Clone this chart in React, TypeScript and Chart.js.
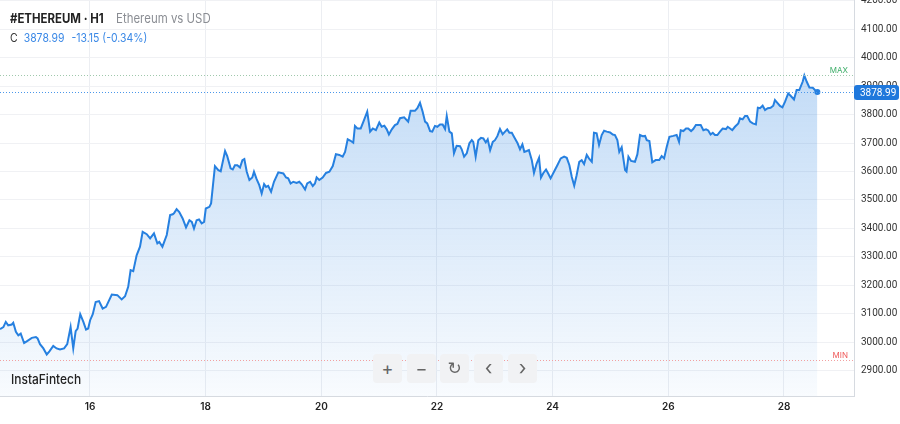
import { useEffect, useRef } from "react";
import { Chart, registerables } from "chart.js";

Chart.register(...registerables);

// ---- data -------------------------------------------------------------
const START_DAY = 14.444; // day-of-month at left edge of the plot
const X_MAX_DAY = 29.211;

const hoursFromStart = [
  0, 1.4, 2.4, 3.4, 4.9, 5.5, 6.6, 7.6, 8.6, 10.0, 11.1, 13.2, 14.9, 15.6, 16.6, 18.0, 19.4, 20.5, 22.1, 23.5,
  24.9, 26.6, 27.9, 29.3, 30.4, 31.4, 32.2, 33.3, 34.6, 35.7, 36.6, 37.4, 38.5, 39.7, 41.1, 42.6, 44.0, 46.4, 48.7, 50.5,
  51.9, 53.2, 54.2, 55.3, 56.7, 58.1, 59.2, 60.9, 62.3, 63.9, 65.3, 66.1, 67.4, 69.2, 70.6, 71.7, 72.2, 73.3, 74.4, 75.8,
  77.2, 78.6, 79.6, 80.5, 81.6, 82.6, 83.7, 84.7, 85.4, 86.9, 87.6, 89.2, 90.6,
  91.6, 93.4, 94.3, 95.7, 96.6, 97.5, 98.5, 99.6, 100.6, 101.4, 102.4, 103.5, 104.7, 105.4, 106.5, 107.6, 108.6, 109.6, 110.4, 111.3,
  112.5, 113.7, 115.5, 117.6, 118.7, 119.6, 120.6, 121.7, 123.1, 124.2, 125.2, 126.6, 127.5, 128.7, 129.8, 130.7, 131.4, 132.5, 133.9, 135.3,
  136.7, 138.1, 139.4, 140.8, 142.2, 143.2, 144.3, 145.5, 146.6, 147.3, 148.3, 149.7, 151.1, 152.4, 153.6, 154.7, 156.0, 157.4, 158.4, 159.5,
  160.5, 161.4, 162.6, 163.9, 164.9, 166.0, 167.7, 169.4, 170.4, 172.2, 173.2, 174.3,
  175.4, 176.4, 177.3, 178.5, 179.4, 180.5, 181.5, 182.6, 183.7, 184.7, 185.4, 186.5, 187.5, 188.4, 189.5, 190.9, 191.6, 192.6, 193.7, 194.8,
  195.8, 196.4, 197.4, 198.5, 199.6, 200.6, 201.6, 202.4, 203.4, 204.5, 205.4, 206.4, 207.5, 208.6, 209.6, 210.5, 211.4, 212.4, 213.7, 214.8,
  215.8, 216.8, 217.6, 218.6, 219.5, 220.7, 221.6, 222.7, 223.7, 224.5, 225.5, 226.6, 227.5, 228.5, 229.9, 231.3, 232.7, 234.1, 235.2, 236.3,
  237.3, 238.3, 239.3, 240.4, 241.4, 242.4, 243.5, 244.4, 245.6, 246.5, 247.6, 248.6, 249.7, 250.7, 251.8, 253.2, 254.3, 255.2, 256.2, 257.0,
  258.0, 259.4, 260.0, 260.8, 261.9, 263.5,
  264.5, 265.6, 266.7, 267.7, 268.4, 269.5, 270.7, 272.1, 273.6, 274.6, 275.6, 276.7, 277.8, 279.4, 280.8, 281.8, 282.5, 283.6, 284.7, 285.6,
  286.8, 287.7, 288.8, 289.8, 290.8, 291.9, 293.0, 293.9, 294.9, 295.8, 296.7, 297.7, 298.8, 299.9, 301.3, 302.0, 303.0, 303.9, 305.0, 306.4,
  307.1, 308.2, 309.2, 310.1, 311.3, 312.4, 313.7, 314.5, 315.4, 316.5, 317.5, 318.6, 319.8, 320.9, 321.6, 322.6, 323.7, 324.7, 325.8, 327.1,
  328.1, 329.5, 330.6, 331.7, 333.1, 333.8, 334.8, 335.9, 337.3, 338.2, 339.2,
];

const closePrices = [
  3047, 3054, 3072, 3060, 3063, 3069, 3037, 3025, 3031, 2998, 3004, 3016, 3019, 3014, 2994, 2979, 2958, 2969, 2988, 2979,
  2975, 2979, 2994, 3054, 2979, 3040, 3049, 3099, 3072, 3045, 3049, 3078, 3099, 3142, 3145, 3119, 3125, 3168, 3166, 3151,
  3162, 3195, 3254, 3250, 3306, 3336, 3388, 3380, 3365, 3383, 3348, 3353, 3336, 3377, 3447, 3450, 3453, 3468, 3458, 3435,
  3404, 3429, 3423, 3400, 3429, 3432, 3418, 3423, 3470, 3476, 3488, 3619, 3605,
  3601, 3672, 3654, 3611, 3607, 3622, 3622, 3614, 3640, 3644, 3599, 3570, 3579, 3599, 3573, 3552, 3523, 3556, 3546, 3550,
  3529, 3564, 3597, 3593, 3579, 3576, 3558, 3564, 3560, 3564, 3555, 3537, 3558, 3564, 3549, 3558, 3579, 3570, 3579, 3595,
  3599, 3619, 3661, 3658, 3652, 3669, 3713, 3708, 3701, 3760, 3751, 3751, 3781, 3810, 3740, 3751, 3745, 3772, 3757, 3761,
  3748, 3730, 3748, 3763, 3767, 3787, 3790, 3775, 3813, 3813, 3822, 3841,
  3810, 3775, 3769, 3742, 3740, 3760, 3757, 3765, 3765, 3749, 3795, 3740, 3734, 3664, 3690, 3689, 3678, 3652, 3664, 3699,
  3710, 3704, 3652, 3710, 3718, 3716, 3702, 3713, 3675, 3704, 3710, 3724, 3749, 3731, 3740, 3748, 3736, 3736, 3716, 3699,
  3678, 3695, 3669, 3672, 3675, 3640, 3595, 3628, 3648, 3579, 3595, 3607, 3593, 3576, 3599, 3622, 3646, 3652, 3648, 3622,
  3581, 3550, 3587, 3634, 3640, 3626, 3658, 3646, 3634, 3736, 3734, 3693, 3728, 3743, 3740, 3737, 3730, 3728, 3710, 3669,
  3685, 3605, 3600, 3652, 3637, 3634,
  3660, 3728, 3724, 3725, 3710, 3707, 3632, 3640, 3640, 3654, 3646, 3687, 3722, 3725, 3728, 3704, 3745, 3742, 3751, 3751,
  3742, 3749, 3763, 3763, 3763, 3745, 3748, 3744, 3730, 3736, 3728, 3728, 3740, 3751, 3749, 3757, 3751, 3745, 3757, 3769,
  3787, 3783, 3795, 3795, 3775, 3769, 3765, 3824, 3822, 3831, 3816, 3822, 3824, 3831, 3851, 3841, 3830, 3825, 3845, 3874,
  3866, 3853, 3886, 3886, 3915, 3937, 3915, 3895, 3894, 3886, 3878.99,
];

const dayTicks = [16, 18, 20, 22, 24, 26, 28];
const priceTicks = [2900, 3000, 3100, 3200, 3300, 3400, 3500, 3600, 3700, 3800, 3900, 4000, 4100, 4200];
const Y_MIN = 2812;
const Y_MAX = 4202;

const LAST_PRICE = 3878.99;
const CHANGE_TEXT = "-13.15 (-0.34%)";
const MAX_LEVEL = 3940;
const MIN_LEVEL = 2940;

const SYMBOL = "#ETHEREUM · H1";
const DESCRIPTION = "Ethereum vs USD";
const BRAND = "InstaFintech";

const BLUE = "#2680e0";
const FONT = "Inter, 'Noto Sans', sans-serif";
const AXIS_FONT = "Roboto, 'Noto Sans', sans-serif";

// ---- plugin for level lines and price badge -----------------------------
const levelsPlugin = {
  id: "levels",
  afterDatasetsDraw(chart: any) {
    const { ctx, chartArea, scales } = chart;
    const y = scales.y;
    const dotted = (v: number, color: string) => {
      const py = Math.round(y.getPixelForValue(v)) + 0.5;
      ctx.save();
      ctx.strokeStyle = color;
      ctx.lineWidth = 1;
      ctx.setLineDash([1, 2]);
      ctx.beginPath();
      ctx.moveTo(chartArea.left, py);
      ctx.lineTo(chartArea.right, py);
      ctx.stroke();
      ctx.restore();
      return py;
    };
    const pMax = dotted(MAX_LEVEL, "#9fc8ac");
    const pMin = dotted(MIN_LEVEL, "#f2a0a0");
    const pLast = dotted(LAST_PRICE, "#4a97ea");

    ctx.save();
    ctx.font = `8px ${FONT}`;
    ctx.textAlign = "right";
    ctx.textBaseline = "bottom";
    ctx.fillStyle = "#3fae6a";
    ctx.fillText("MAX", chartArea.right - 6, pMax - 1);
    ctx.fillStyle = "#ef5b5b";
    ctx.fillText("MIN", chartArea.right - 6, pMin - 1);

    // price badge
    const bx = chartArea.right;
    const bw = 45;
    const bh = 15;
    const by = pLast - bh / 2;
    ctx.fillStyle = "#1f78dc";
    ctx.beginPath();
    (ctx as any).roundRect(bx, by, bw, bh, 3);
    ctx.fill();
    ctx.fillStyle = "#ffffff";
    ctx.font = `10px ${AXIS_FONT}`;
    ctx.textAlign = "left";
    ctx.textBaseline = "middle";
    ctx.fillText(LAST_PRICE.toFixed(2), bx + 6, pLast + 0.5);
    ctx.restore();
  },
};

export default function App() {
  const canvasRef = useRef<HTMLCanvasElement | null>(null);

  useEffect(() => {
    const canvas = canvasRef.current;
    if (!canvas) return;
    const n = Math.min(hoursFromStart.length, closePrices.length);
    const points = [];
    for (let i = 0; i < n; i++) {
      points.push({ x: START_DAY + hoursFromStart[i] / 24, y: closePrices[i] });
    }
    const lastIndex = n - 1;

    const chart = new Chart(canvas, {
      type: "line",
      data: {
        datasets: [
          {
            data: points,
            borderColor: BLUE,
            borderWidth: 2,
            tension: 0,
            fill: "start",
            pointRadius: (c: any) => (c.dataIndex === lastIndex ? 3 : 0),
            pointBackgroundColor: BLUE,
            pointBorderWidth: 0,
            backgroundColor: (c: any) => {
              const { chart: ch } = c;
              const area = ch.chartArea;
              if (!area) return "rgba(38,128,224,0.2)";
              const g = ch.ctx.createLinearGradient(0, area.top, 0, area.bottom);
              g.addColorStop(0, "rgba(38,128,224,0.33)");
              g.addColorStop(0.25, "rgba(38,128,224,0.26)");
              g.addColorStop(1, "rgba(38,128,224,0.03)");
              return g;
            },
          },
        ],
      },
      options: {
        animation: false,
        responsive: false,
        maintainAspectRatio: false,
        layout: { padding: 0, autoPadding: false },
        plugins: { legend: { display: false }, tooltip: { enabled: false } },
        scales: {
          x: {
            type: "linear",
            min: START_DAY,
            max: X_MAX_DAY,
            afterBuildTicks: (s: any) => {
              s.ticks = dayTicks.map((v) => ({ value: v }));
            },
            afterFit: (s: any) => {
              s.height = 28;
              s.paddingLeft = 0;
              s.paddingRight = 0;
            },
            grid: { color: "#eceef2", drawTicks: false },
            border: { color: "#d6dae0" },
            ticks: {
              padding: 5,
              color: "#222",
              font: { family: FONT, size: 10, weight: "600" },
              callback: (v: any) => String(v),
              maxRotation: 0,
            },
          },
          y: {
            position: "right",
            min: Y_MIN,
            max: Y_MAX,
            afterBuildTicks: (s: any) => {
              s.ticks = priceTicks.map((v) => ({ value: v }));
            },
            afterFit: (s: any) => {
              s.width = 46;
              s.paddingTop = 0;
              s.paddingBottom = 0;
            },
            grid: { color: "#f0f1f4", drawTicks: false },
            border: { color: "#d6dae0" },
            ticks: {
              padding: 7,
              color: "#333",
              font: { family: AXIS_FONT, size: 10 },
              callback: (v: any) => Number(v).toFixed(2),
            },
          },
        },
      },
      plugins: [levelsPlugin],
    } as any);

    return () => chart.destroy();
  }, []);

  const btn = (left: number, label: string, extra: any = {}) => (
    <div
      style={{
        position: "absolute",
        left,
        top: 354,
        width: 29,
        height: 29,
        borderRadius: 4,
        background: "#f1f2f4",
        color: "#666",
        fontFamily: FONT,
        fontSize: 18,
        lineHeight: "29px",
        textAlign: "center",
        ...extra,
      }}
    >
      {label}
    </div>
  );

  return (
    <div
      style={{
        position: "fixed",
        left: 0,
        top: 0,
        width: 900,
        height: 424,
        background: "#fff",
        overflow: "hidden",
      }}
    >
      <canvas ref={canvasRef} width={900} height={424} style={{ display: "block", width: 900, height: 424 }} />
      <div
        style={{
          position: "absolute",
          left: 10,
          top: 10,
          fontFamily: FONT,
          fontSize: 13,
          lineHeight: "16px",
          whiteSpace: "nowrap",
          transform: "scaleX(0.88)",
          transformOrigin: "left center",
        }}
      >
        <span style={{ fontWeight: 700, color: "#222" }}>{SYMBOL}</span>
        <span style={{ color: "#8a8d93", marginLeft: 14 }}>{DESCRIPTION}</span>
      </div>
      <div
        style={{
          position: "absolute",
          left: 10,
          top: 30,
          fontFamily: FONT,
          fontSize: 12,
          lineHeight: "16px",
          whiteSpace: "nowrap",
          transform: "scaleX(0.87)",
          transformOrigin: "left center",
        }}
      >
        <span style={{ color: "#333" }}>C</span>
        <span style={{ color: "#3a88e6", marginLeft: 7 }}>{LAST_PRICE.toFixed(2)}</span>
        <span style={{ color: "#3a88e6", marginLeft: 8 }}>{CHANGE_TEXT}</span>
      </div>
      <div
        style={{
          position: "absolute",
          left: 11,
          top: 371,
          fontFamily: FONT,
          fontSize: 13,
          fontWeight: 500,
          lineHeight: "16px",
          color: "#222",
          transform: "scaleX(0.92)",
          transformOrigin: "left center",
        }}
      >
        {BRAND}
      </div>
      {btn(373, "+")}
      {btn(407, "−")}
      {btn(440, "↻", { fontFamily: "'DejaVu Sans', sans-serif", fontSize: 17 })}
      {btn(474, "‹", { fontSize: 20 })}
      {btn(508, "›", { fontSize: 20 })}
    </div>
  );
}
